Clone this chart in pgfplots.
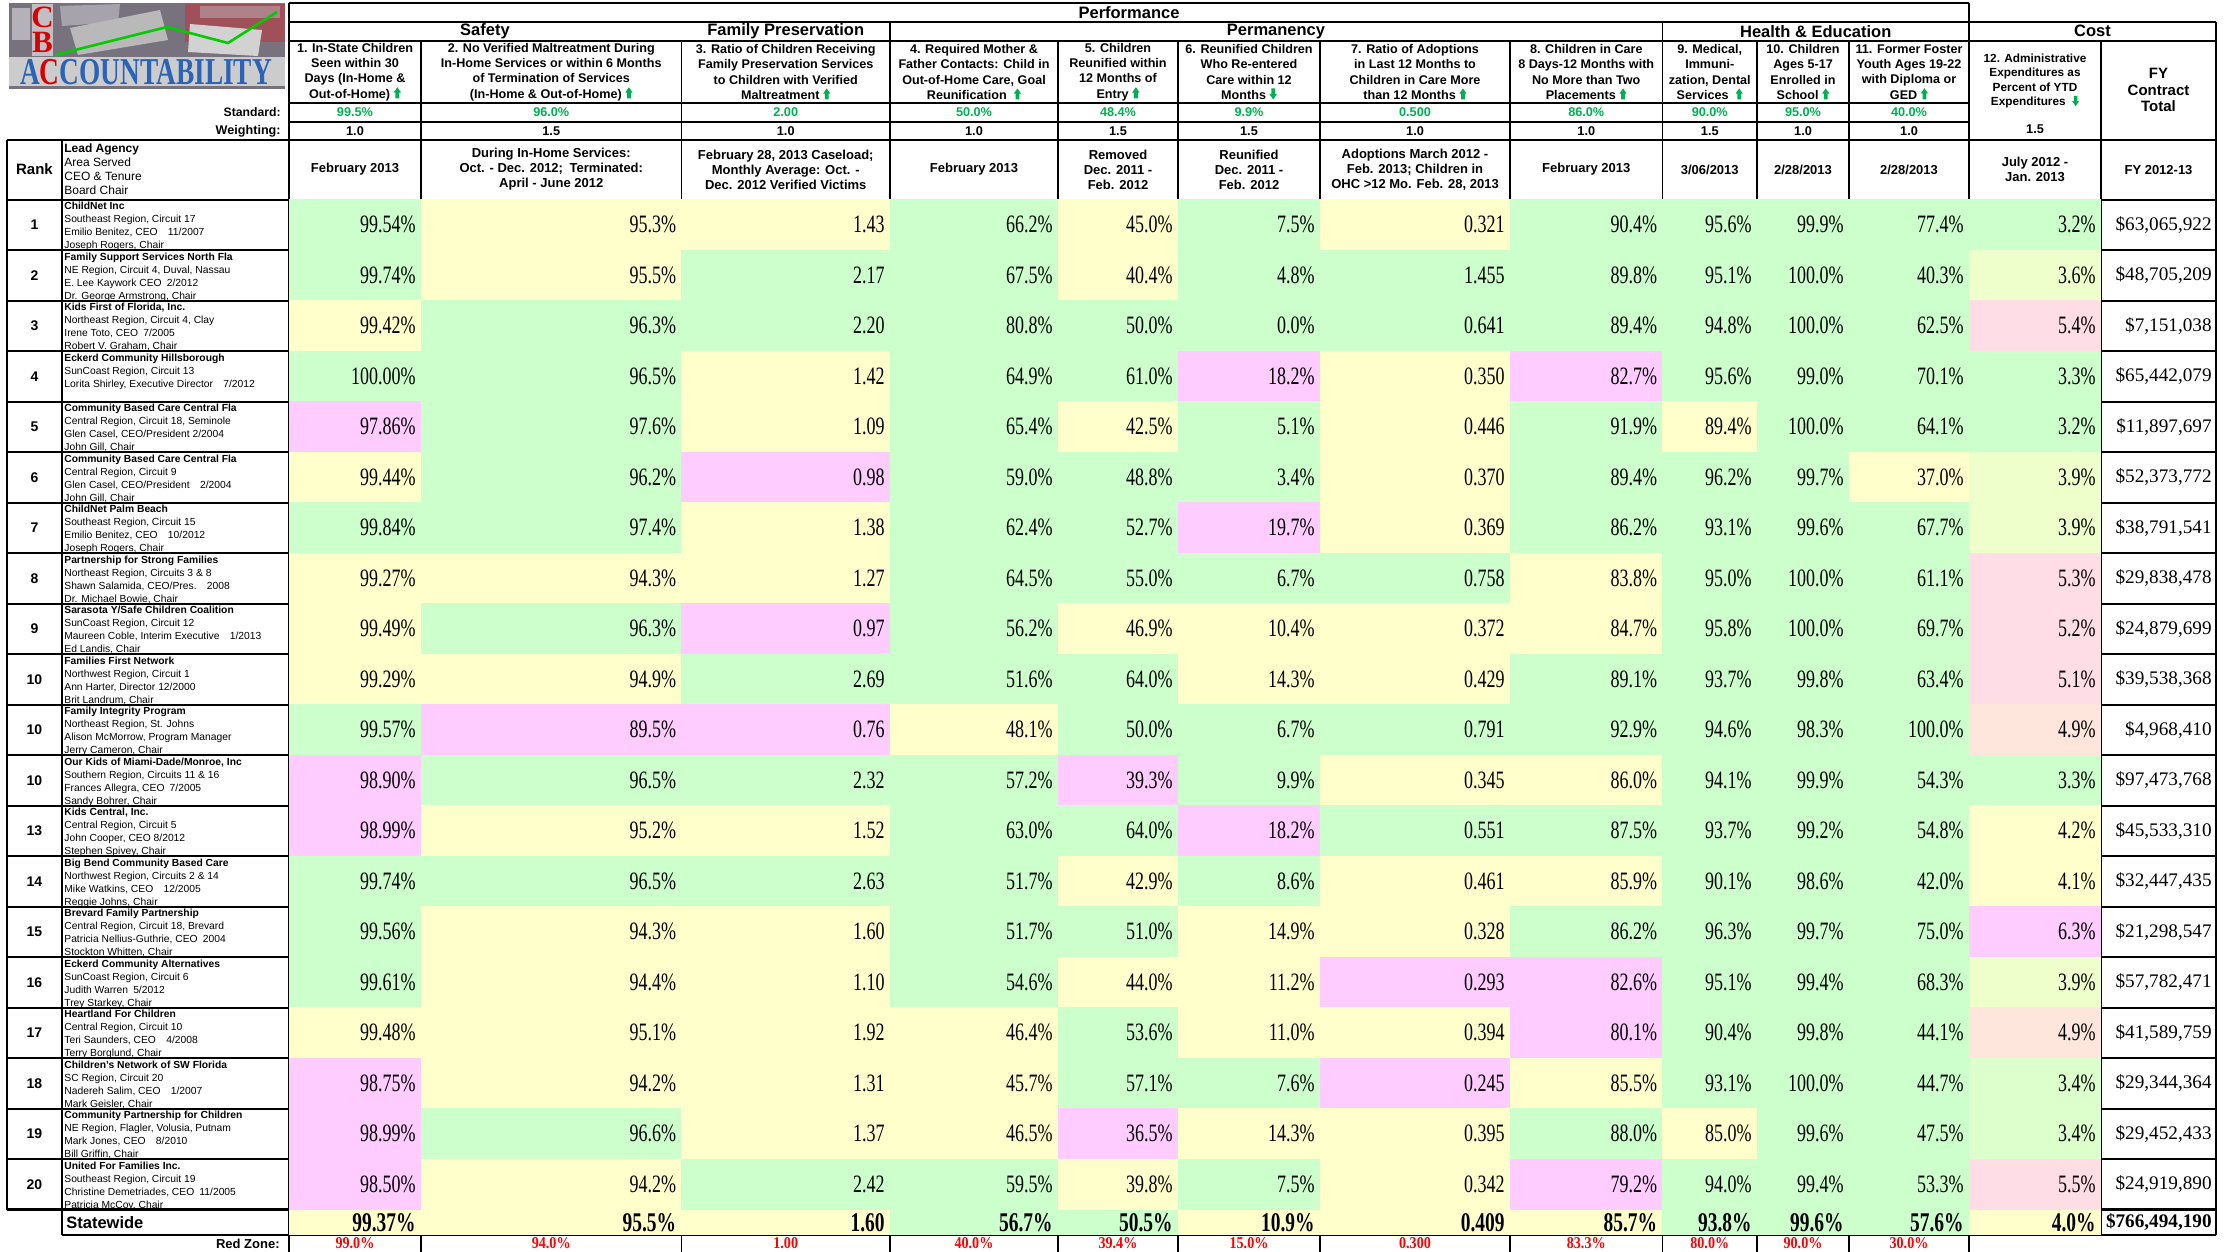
\documentclass[border=0pt]{standalone}
\usepackage{fontspec}
\setmainfont{Liberation Sans}
\newfontfamily\valfont[FakeStretch=0.72]{Liberation Serif}
\newfontfamily\fyfont{Liberation Serif}
\newfontfamily\redfont[FakeStretch=0.85]{Liberation Serif}
\usepackage{pgfplots}
\usepackage{pgfplotstable}
\pgfplotsset{compat=1.18}

\definecolor{cG}{HTML}{CCFFCC}
\definecolor{cY}{HTML}{FFFFCC}
\definecolor{cP}{HTML}{FFCCFF}
\definecolor{cL}{HTML}{FFDDE6}
\definecolor{cE}{HTML}{EEFFCC}
\definecolor{cK}{HTML}{FFE6DC}
\definecolor{cD}{HTML}{DDFFCC}
\definecolor{cW}{HTML}{FFFFFF}
\definecolor{agreen}{HTML}{00B050}
\definecolor{zred}{HTML}{FF0000}
\definecolor{logobg}{HTML}{77727E}
\definecolor{logoblue}{HTML}{2A63B8}

\newcommand\up{\tikz[baseline=0pt]\fill[agreen] (0.14em,-0.02em) -- (0.14em,0.44em) -- (0em,0.44em) -- (0.29em,0.86em) -- (0.58em,0.44em) -- (0.44em,0.44em) -- (0.44em,-0.02em) -- cycle;}
\newcommand\dn{\tikz[baseline=0pt]\fill[agreen] (0.14em,0.86em) -- (0.14em,0.4em) -- (0em,0.4em) -- (0.29em,-0.02em) -- (0.58em,0.4em) -- (0.44em,0.4em) -- (0.44em,0.86em) -- cycle;}

\pgfdeclareplotmark{cell}{%
  \pgfsetfillcolor{c\pgfplotspointmeta}%
  \pgfpathrectangle{\pgfpoint{-\pgfplotmarksize}{-12.7pt}}{\pgfpoint{2\pgfplotmarksize}{25.4pt}}%
  \pgfusepathqfill}
\pgfdeclareplotmark{cellS}{%
  \pgfsetfillcolor{c\pgfplotspointmeta}%
  \pgfpathrectangle{\pgfpoint{-\pgfplotmarksize}{-6.4pt}}{\pgfpoint{2\pgfplotmarksize}{12.8pt}}%
  \pgfusepathqfill}

\pgfplotsset{
  cellbase/.style={only marks, scatter, point meta=explicit symbolic,
    scatter/@pre marker code/.code={}, scatter/@post marker code/.code={}},
  cellsR/.style={cellbase, mark=cell, mark size=#1, skip coords between index={20}{21}},
  cellsS/.style={cellbase, mark=cellS, mark size=#1, skip coords between index={0}{20}},
  txt/.style 2 args={draw=none, mark=none, point meta=explicit symbolic,
    nodes near coords={#1},
    every node near coord/.append style={inner sep=0pt, #2}},
  valR/.style={txt={#1}{anchor=east, text=black, font=\valfont\fontsize{12.5}{12.5}\selectfont}, skip coords between index={20}{21}},
  valS/.style={txt={#1}{anchor=east, text=black, font=\valfont\bfseries\fontsize{13.5}{13.5}\selectfont}, skip coords between index={0}{20}},
}

\tikzset{
  hl/.style={line width=0.9pt},
  vl/.style={line width=0.6pt},
  hdr/.style={align=center, inner sep=0pt, font=\bfseries\fontsize{6.3}{7.6}\selectfont},
  ag/.style={anchor=north west, align=left, inner sep=0pt, font=\fontsize{5.15}{6.5}\selectfont},
  logoword/.style={font=\valfont\bfseries\fontsize{19}{19}\selectfont, inner sep=0pt},
}

\begin{document}
\pgfplotstableread{
y r v1 k1 v2 k2 v3 k3 v4 k4 v5 k5 v6 k6 v7 k7 v8 k8 v9 k9 v10 k10 v11 k11 v12 k12 v13
224.85 1 99.54 G 95.3 Y 1.43 Y 66.2 G 45.0 Y 7.5 G 0.321 Y 90.4 G 95.6 G 99.9 G 77.4 G 3.2 G 63,065,922
275.35 2 99.74 G 95.5 Y 2.17 G 67.5 G 40.4 Y 4.8 G 1.455 G 89.8 G 95.1 G 100.0 G 40.3 G 3.6 E 48,705,209
325.85 3 99.42 Y 96.3 G 2.20 G 80.8 G 50.0 G 0.0 G 0.641 G 89.4 G 94.8 G 100.0 G 62.5 G 5.4 L 7,151,038
376.35 4 100.00 G 96.5 G 1.42 Y 64.9 G 61.0 G 18.2 P 0.350 Y 82.7 P 95.6 G 99.0 G 70.1 G 3.3 G 65,442,079
426.85 5 97.86 P 97.6 G 1.09 Y 65.4 G 42.5 Y 5.1 G 0.446 Y 91.9 G 89.4 Y 100.0 G 64.1 G 3.2 G 11,897,697
477.35 6 99.44 Y 96.2 G 0.98 P 59.0 G 48.8 G 3.4 G 0.370 Y 89.4 G 96.2 G 99.7 G 37.0 Y 3.9 E 52,373,772
527.85 7 99.84 G 97.4 G 1.38 Y 62.4 G 52.7 G 19.7 P 0.369 Y 86.2 G 93.1 G 99.6 G 67.7 G 3.9 E 38,791,541
578.35 8 99.27 Y 94.3 Y 1.27 Y 64.5 G 55.0 G 6.7 G 0.758 G 83.8 Y 95.0 G 100.0 G 61.1 G 5.3 L 29,838,478
628.85 9 99.49 Y 96.3 G 0.97 P 56.2 G 46.9 Y 10.4 Y 0.372 Y 84.7 Y 95.8 G 100.0 G 69.7 G 5.2 L 24,879,699
679.35 10 99.29 Y 94.9 Y 2.69 G 51.6 G 64.0 G 14.3 Y 0.429 Y 89.1 G 93.7 G 99.8 G 63.4 G 5.1 L 39,538,368
729.85 10 99.57 G 89.5 P 0.76 P 48.1 Y 50.0 G 6.7 G 0.791 G 92.9 G 94.6 G 98.3 G 100.0 G 4.9 K 4,968,410
780.35 10 98.90 P 96.5 G 2.32 G 57.2 G 39.3 P 9.9 G 0.345 Y 86.0 Y 94.1 G 99.9 G 54.3 G 3.3 G 97,473,768
830.85 13 98.99 P 95.2 Y 1.52 Y 63.0 G 64.0 G 18.2 P 0.551 G 87.5 G 93.7 G 99.2 G 54.8 G 4.2 Y 45,533,310
881.35 14 99.74 G 96.5 G 2.63 G 51.7 G 42.9 Y 8.6 G 0.461 Y 85.9 Y 90.1 G 98.6 G 42.0 G 4.1 Y 32,447,435
931.85 15 99.56 G 94.3 Y 1.60 Y 51.7 G 51.0 G 14.9 Y 0.328 Y 86.2 G 96.3 G 99.7 G 75.0 G 6.3 P 21,298,547
982.35 16 99.61 G 94.4 Y 1.10 Y 54.6 G 44.0 Y 11.2 Y 0.293 P 82.6 P 95.1 G 99.4 G 68.3 G 3.9 E 57,782,471
1032.85 17 99.48 Y 95.1 Y 1.92 Y 46.4 Y 53.6 G 11.0 Y 0.394 Y 80.1 P 90.4 G 99.8 G 44.1 G 4.9 K 41,589,759
1083.35 18 98.75 P 94.2 Y 1.31 Y 45.7 Y 57.1 G 7.6 G 0.245 P 85.5 Y 93.1 G 100.0 G 44.7 G 3.4 D 29,344,364
1133.85 19 98.99 P 96.6 G 1.37 Y 46.5 Y 36.5 P 14.3 Y 0.395 Y 88.0 G 85.0 Y 99.6 G 47.5 G 3.4 D 29,452,433
1184.35 20 98.50 P 94.2 Y 2.42 G 59.5 G 39.8 Y 7.5 G 0.342 Y 79.2 P 94.0 G 99.4 G 53.3 G 5.5 L 24,919,890
1222.3 0 99.37 Y 95.5 Y 1.60 Y 56.7 G 50.5 G 10.9 Y 0.409 Y 85.7 Y 93.8 G 99.6 G 57.6 G 4.0 Y 766,494,190
}\data

% standard / weighting / red zone: percent columns
\pgfplotstableread{
x s w r
355 99.5 1.0 99.0
551.25 96.0 1.5 94.0
974 50.0 1.0 40.0
1118 48.4 1.5 39.4
1249 9.9 1.5 15.0
1586.25 86.0 1.0 83.3
1709.75 90.0 1.5 80.0
1803 95.0 1.0 90.0
1909 40.0 1.0 30.0
}\hdrP
% ratio columns
\pgfplotstableread{
x s w r
785.75 2.00 1.0 1.00
1415 0.500 1.0 0.300
}\hdrN
\pgfplotstableread{
x w
2035 1.5
}\hdrC

\begin{tikzpicture}
\begin{axis}[
  x=0.5pt, y=0.5pt, y dir=reverse,
  xmin=0, xmax=2233, ymin=0, ymax=1252,
  hide axis, clip=false,
]
\coordinate (TL) at (0,0);
\coordinate (BR) at (2233,1252);

% ---------- cell fills ----------
\addplot[cellsR=33.2pt]  table[x expr=355,     y=y, meta=k1]  {\data};
\addplot[cellsS=33.2pt]  table[x expr=355,     y=y, meta=k1]  {\data};
\addplot[cellsR=65.35pt] table[x expr=551.25,  y=y, meta=k2]  {\data};
\addplot[cellsS=65.35pt] table[x expr=551.25,  y=y, meta=k2]  {\data};
\addplot[cellsR=52.35pt] table[x expr=785.75,  y=y, meta=k3]  {\data};
\addplot[cellsS=52.35pt] table[x expr=785.75,  y=y, meta=k3]  {\data};
\addplot[cellsR=42.2pt]  table[x expr=974,     y=y, meta=k4]  {\data};
\addplot[cellsS=42.2pt]  table[x expr=974,     y=y, meta=k4]  {\data};
\addplot[cellsR=30.2pt]  table[x expr=1118,    y=y, meta=k5]  {\data};
\addplot[cellsS=30.2pt]  table[x expr=1118,    y=y, meta=k5]  {\data};
\addplot[cellsR=35.7pt]  table[x expr=1249,    y=y, meta=k6]  {\data};
\addplot[cellsS=35.7pt]  table[x expr=1249,    y=y, meta=k6]  {\data};
\addplot[cellsR=47.7pt]  table[x expr=1415,    y=y, meta=k7]  {\data};
\addplot[cellsS=47.7pt]  table[x expr=1415,    y=y, meta=k7]  {\data};
\addplot[cellsR=38.35pt] table[x expr=1586.25, y=y, meta=k8]  {\data};
\addplot[cellsS=38.35pt] table[x expr=1586.25, y=y, meta=k8]  {\data};
\addplot[cellsR=23.85pt] table[x expr=1709.75, y=y, meta=k9]  {\data};
\addplot[cellsS=23.85pt] table[x expr=1709.75, y=y, meta=k9]  {\data};
\addplot[cellsR=23.2pt]  table[x expr=1803,    y=y, meta=k10] {\data};
\addplot[cellsS=23.2pt]  table[x expr=1803,    y=y, meta=k10] {\data};
\addplot[cellsR=30.2pt]  table[x expr=1909,    y=y, meta=k11] {\data};
\addplot[cellsS=30.2pt]  table[x expr=1909,    y=y, meta=k11] {\data};
\addplot[cellsR=33.2pt]  table[x expr=2035,    y=y, meta=k12] {\data};
\addplot[cellsS=33.2pt]  table[x expr=2035,    y=y, meta=k12] {\data};

% ---------- logo (collage background drawn as shapes) ----------
\fill[logobg] (9,3) rectangle (285,89);
\fill[red!30!logobg] (185,4) rectangle (285,42);
\fill[white!45!logobg] (12,8) rectangle (30,40);
\fill[white!35!logobg] (60,6) -- (120,4) -- (118,22) -- (62,26) -- cycle;
\fill[gray!55] (70,28) -- (160,10) -- (168,40) -- (78,55) -- cycle;
\fill[gray!35] (190,24) -- (262,30) -- (258,56) -- (188,52) -- cycle;
\fill[white!60!red!40!logobg] (200,6) rectangle (280,18);
\fill[white, opacity=0.55] (32,4) rectangle (53,56);
\fill[gray!40] (9,57) rectangle (285,86);
\node[text=red!85!black, align=center, inner sep=0pt, font=\fyfont\bfseries\fontsize{15.5}{12.25}\selectfont] at (42.5,29.75) {C\\B};
\draw[green!80!black, line width=1.3pt] (55,55) -- (167,27) -- (228,43) -- (277,12);
\node[logoword, text=logoblue] at (146,72.5) {A\textcolor{red!85!black}{C}COUNTABILITY};

% ---------- grid ----------
\draw[hl] (289,2.7) -- (1969,2.7);
\draw[hl] (289,21.7) -- (2216,21.7);
\draw[hl] (289,40.7) -- (2216,40.7);
\draw[hl] (289,103.3) -- (1969,103.3);
\draw[hl] (289,121.7) -- (1969,121.7);
\draw[hl] (7,140) -- (2216,140);
\draw[hl] (7,199.6) -- (2216,199.6);
\draw[hl] (7,250.1) -- (2216,250.1);
\draw[hl] (7,300.6) -- (2216,300.6);
\draw[hl] (7,351.1) -- (2216,351.1);
\draw[hl] (7,401.6) -- (2216,401.6);
\draw[hl] (7,452.1) -- (2216,452.1);
\draw[hl] (7,502.6) -- (2216,502.6);
\draw[hl] (7,553.1) -- (2216,553.1);
\draw[hl] (7,603.6) -- (2216,603.6);
\draw[hl] (7,654.1) -- (2216,654.1);
\draw[hl] (7,704.6) -- (2216,704.6);
\draw[hl] (7,755.1) -- (2216,755.1);
\draw[hl] (7,805.6) -- (2216,805.6);
\draw[hl] (7,856.1) -- (2216,856.1);
\draw[hl] (7,906.6) -- (2216,906.6);
\draw[hl] (7,957.1) -- (2216,957.1);
\draw[hl] (7,1007.6) -- (2216,1007.6);
\draw[hl] (7,1058.1) -- (2216,1058.1);
\draw[hl] (7,1108.6) -- (2216,1108.6);
\draw[hl] (7,1159.1) -- (2216,1159.1);
\draw[line width=1.4pt] (7,1209.6) -- (2216,1209.6);
\draw[hl] (62,1235) -- (2216,1235);
\draw[vl] (289,2.7) -- (289,1252);
\draw[vl] (421,40.7) -- (421,1252);
\draw[vl] (681.5,40.7) -- (681.5,1252);
\draw[vl] (890,21.7) -- (890,1252);
\draw[vl] (1058,40.7) -- (1058,1252);
\draw[vl] (1178,40.7) -- (1178,1252);
\draw[vl] (1320,40.7) -- (1320,1252);
\draw[vl] (1510,40.7) -- (1510,1252);
\draw[vl] (1662.5,21.7) -- (1662.5,1252);
\draw[vl] (1757,40.7) -- (1757,1252);
\draw[vl] (1849,40.7) -- (1849,1252);
\draw[vl] (1969,2.7) -- (1969,1252);
\draw[vl] (2101,40.7) -- (2101,1235);
\draw[vl] (2216,21.7) -- (2216,1235);
\draw[vl] (7,140) -- (7,1209.6);
\draw[vl] (62,140) -- (62,1235);

% ---------- values ----------
\addplot[valR={\pgfplotspointmeta\%}] table[x expr=416,    y=y, meta=v1]  {\data};
\addplot[valS={\pgfplotspointmeta\%}] table[x expr=416,    y=y, meta=v1]  {\data};
\addplot[valR={\pgfplotspointmeta\%}] table[x expr=676.5,  y=y, meta=v2]  {\data};
\addplot[valS={\pgfplotspointmeta\%}] table[x expr=676.5,  y=y, meta=v2]  {\data};
\addplot[valR={\pgfplotspointmeta}]   table[x expr=885,    y=y, meta=v3]  {\data};
\addplot[valS={\pgfplotspointmeta}]   table[x expr=885,    y=y, meta=v3]  {\data};
\addplot[valR={\pgfplotspointmeta\%}] table[x expr=1053,   y=y, meta=v4]  {\data};
\addplot[valS={\pgfplotspointmeta\%}] table[x expr=1053,   y=y, meta=v4]  {\data};
\addplot[valR={\pgfplotspointmeta\%}] table[x expr=1173,   y=y, meta=v5]  {\data};
\addplot[valS={\pgfplotspointmeta\%}] table[x expr=1173,   y=y, meta=v5]  {\data};
\addplot[valR={\pgfplotspointmeta\%}] table[x expr=1315,   y=y, meta=v6]  {\data};
\addplot[valS={\pgfplotspointmeta\%}] table[x expr=1315,   y=y, meta=v6]  {\data};
\addplot[valR={\pgfplotspointmeta}]   table[x expr=1505,   y=y, meta=v7]  {\data};
\addplot[valS={\pgfplotspointmeta}]   table[x expr=1505,   y=y, meta=v7]  {\data};
\addplot[valR={\pgfplotspointmeta\%}] table[x expr=1657.5, y=y, meta=v8]  {\data};
\addplot[valS={\pgfplotspointmeta\%}] table[x expr=1657.5, y=y, meta=v8]  {\data};
\addplot[valR={\pgfplotspointmeta\%}] table[x expr=1752,   y=y, meta=v9]  {\data};
\addplot[valS={\pgfplotspointmeta\%}] table[x expr=1752,   y=y, meta=v9]  {\data};
\addplot[valR={\pgfplotspointmeta\%}] table[x expr=1844,   y=y, meta=v10] {\data};
\addplot[valS={\pgfplotspointmeta\%}] table[x expr=1844,   y=y, meta=v10] {\data};
\addplot[valR={\pgfplotspointmeta\%}] table[x expr=1964,   y=y, meta=v11] {\data};
\addplot[valS={\pgfplotspointmeta\%}] table[x expr=1964,   y=y, meta=v11] {\data};
\addplot[valR={\pgfplotspointmeta\%}] table[x expr=2096,   y=y, meta=v12] {\data};
\addplot[valS={\pgfplotspointmeta\%}] table[x expr=2096,   y=y, meta=v12] {\data};
\addplot[txt={\$\pgfplotspointmeta}{anchor=east, text=black, font=\fyfont\fontsize{9.6}{9.6}\selectfont}, skip coords between index={20}{21}] table[x expr=2212, y=y, meta=v13] {\data};
\addplot[txt={\$\pgfplotspointmeta}{anchor=east, text=black, font=\fyfont\bfseries\fontsize{9.6}{9.6}\selectfont}, skip coords between index={0}{20}] table[x expr=2212, y=y, meta=v13] {\data};
% rank
\addplot[txt={\pgfplotspointmeta}{anchor=center, text=black, font=\bfseries\fontsize{7}{7}\selectfont}, skip coords between index={20}{21}] table[x expr=34.5, y=y, meta=r] {\data};
% standard, weighting, red zone
\addplot[txt={\pgfplotspointmeta\%}{anchor=center, text=agreen, font=\bfseries\fontsize{6.35}{6.35}\selectfont}] table[x=x, y expr=112.5, meta=s] {\hdrP};
\addplot[txt={\pgfplotspointmeta}{anchor=center, text=agreen, font=\bfseries\fontsize{6.35}{6.35}\selectfont}] table[x=x, y expr=112.5, meta=s] {\hdrN};
\addplot[txt={\pgfplotspointmeta}{anchor=center, text=black, font=\bfseries\fontsize{6.35}{6.35}\selectfont}] table[x=x, y expr=130.8, meta=w] {\hdrP};
\addplot[txt={\pgfplotspointmeta}{anchor=center, text=black, font=\bfseries\fontsize{6.35}{6.35}\selectfont}] table[x=x, y expr=130.8, meta=w] {\hdrN};
\addplot[txt={\pgfplotspointmeta}{anchor=center, text=black, font=\bfseries\fontsize{6.35}{6.35}\selectfont}] table[x=x, y expr=129.5, meta=w] {\hdrC};
\addplot[txt={\pgfplotspointmeta\%}{anchor=center, text=zred, font=\redfont\bfseries\fontsize{8.3}{8.3}\selectfont}] table[x=x, y expr=1243.5, meta=r] {\hdrP};
\addplot[txt={\pgfplotspointmeta}{anchor=center, text=zred, font=\redfont\bfseries\fontsize{8.3}{8.3}\selectfont}] table[x=x, y expr=1243.5, meta=r] {\hdrN};

% ---------- header texts ----------
\node[font=\bfseries\fontsize{8.25}{9}\selectfont] at (1129,12.2) {Performance};
\node[font=\bfseries\fontsize{8.25}{9}\selectfont] at (485,31.2) {Safety};
\node[font=\bfseries\fontsize{8.25}{9}\selectfont] at (785.75,31.2) {Family Preservation};
\node[font=\bfseries\fontsize{8.25}{9}\selectfont] at (1276,31.2) {Permanency};
\node[font=\bfseries\fontsize{8.25}{9}\selectfont] at (1815.75,31.2) {Health \& Education};
\node[font=\bfseries\fontsize{8.25}{9}\selectfont] at (2092.5,31.2) {Cost};

\node[hdr] at (355,72) {1. In-State Children\\Seen within 30\\Days (In-Home \&\\Out-of-Home) \up};
\node[hdr] at (551.25,72) {2. No Verified Maltreatment During\\In-Home Services or within 6 Months\\of Termination of Services\\(In-Home \& Out-of-Home) \up};
\node[hdr] at (785.75,72) {3. Ratio of Children Receiving\\Family Preservation Services\\to Children with Verified\\Maltreatment \up};
\node[hdr] at (974,72) {4. Required Mother \&\\Father Contacts: Child in\\Out-of-Home Care, Goal\\Reunification \ \up};
\node[hdr] at (1118,72) {5. Children\\Reunified within\\12 Months of\\Entry \up};
\node[hdr] at (1249,72) {6. Reunified Children\\Who Re-entered\\Care within 12\\Months \dn};
\node[hdr] at (1415,72) {7. Ratio of Adoptions\\in Last 12 Months to\\Children in Care More\\than 12 Months \up};
\node[hdr] at (1586.25,72) {8. Children in Care\\8 Days-12 Months with\\No More than Two\\Placements \up};
\node[hdr] at (1709.75,72) {9. Medical,\\Immuni-\\zation, Dental\\Services \ \up};
\node[hdr] at (1803,72) {10. Children\\Ages 5-17\\Enrolled in\\School \up};
\node[hdr] at (1909,72) {11. Former Foster\\Youth Ages 19-22\\with Diploma or\\GED \up};
\node[hdr, font=\bfseries\fontsize{5.9}{7.3}\selectfont] at (2035,81) {12. Administrative\\Expenditures as\\Percent of YTD\\Expenditures \ \dn};
\node[hdr, font=\bfseries\fontsize{7.5}{8.3}\selectfont] at (2158.5,90.3) {FY\\Contract\\Total};

\node[anchor=east, inner sep=0pt, font=\bfseries\fontsize{6.1}{7}\selectfont] at (281,112.5) {Standard:};
\node[anchor=east, inner sep=0pt, font=\bfseries\fontsize{6.3}{7}\selectfont] at (281,130.8) {Weighting:};

\node[hdr, font=\bfseries\fontsize{6.5}{7.5}\selectfont] at (355,169.6) {February 2013};
\node[hdr, font=\bfseries\fontsize{6.5}{7.5}\selectfont] at (551.25,169.6) {During In-Home Services:\\Oct. - Dec. 2012;\enspace Terminated:\\April - June 2012};
\node[hdr, font=\bfseries\fontsize{6.5}{7.5}\selectfont] at (785.75,169.6) {February 28, 2013 Caseload;\\Monthly Average: Oct. -\\Dec. 2012 Verified Victims};
\node[hdr, font=\bfseries\fontsize{6.5}{7.5}\selectfont] at (974,169.6) {February 2013};
\node[hdr, font=\bfseries\fontsize{6.5}{7.5}\selectfont] at (1118,169.6) {Removed\\Dec. 2011 -\\Feb. 2012};
\node[hdr, font=\bfseries\fontsize{6.5}{7.5}\selectfont] at (1249,169.6) {Reunified\\Dec. 2011 -\\Feb. 2012};
\node[hdr, font=\bfseries\fontsize{6.5}{7.5}\selectfont] at (1415,169.6) {Adoptions March 2012 -\\Feb. 2013; Children in\\OHC >12 Mo. Feb. 28, 2013};
\node[hdr, font=\bfseries\fontsize{6.5}{7.5}\selectfont] at (1586.25,169.6) {February 2013};
\node[hdr, font=\bfseries\fontsize{6.5}{7.5}\selectfont] at (1709.75,169.6) {3/06/2013};
\node[hdr, font=\bfseries\fontsize{6.5}{7.5}\selectfont] at (1803,169.6) {2/28/2013};
\node[hdr, font=\bfseries\fontsize{6.5}{7.5}\selectfont] at (1909,169.6) {2/28/2013};
\node[hdr, font=\bfseries\fontsize{6.5}{7.5}\selectfont] at (2035,169.6) {July 2012 -\\Jan. 2013};
\node[hdr, font=\bfseries\fontsize{6.5}{7.5}\selectfont] at (2158.5,169.6) {FY 2012-13};

\node[font=\bfseries\fontsize{7.5}{8}\selectfont, inner sep=0pt] at (34.5,169.6) {Rank};
\node[ag, font=\fontsize{6}{7}\selectfont] at (64,143.5) {\textbf{Lead Agency}\\Area Served\\CEO \& Tenure\\Board Chair};

% ---------- agencies ----------
\node[ag] at (64,202.1) {\textbf{ChildNet Inc}\\Southeast Region, Circuit 17\\Emilio Benitez, CEO\quad 11/2007\\Joseph Rogers, Chair};
\node[ag] at (64,252.6) {\textbf{Family Support Services North Fla}\\NE Region, Circuit 4, Duval, Nassau\\E. Lee Kaywork CEO\enspace 2/2012\\Dr. George Armstrong, Chair};
\node[ag] at (64,303.1) {\textbf{Kids First of Florida, Inc.}\\Northeast Region, Circuit 4, Clay\\Irene Toto, CEO\enspace 7/2005\\Robert V. Graham, Chair};
\node[ag] at (64,353.6) {\textbf{Eckerd Community Hillsborough}\\SunCoast Region, Circuit 13\\Lorita Shirley, Executive Director\quad 7/2012};
\node[ag] at (64,404.1) {\textbf{Community Based Care Central Fla}\\Central Region, Circuit 18, Seminole\\Glen Casel, CEO/President\ 2/2004\\John Gill, Chair};
\node[ag] at (64,454.6) {\textbf{Community Based Care Central Fla}\\Central Region, Circuit 9\\Glen Casel, CEO/President\quad 2/2004\\John Gill, Chair};
\node[ag] at (64,505.1) {\textbf{ChildNet Palm Beach}\\Southeast Region, Circuit 15\\Emilio Benitez, CEO\quad 10/2012\\Joseph Rogers, Chair};
\node[ag] at (64,555.6) {\textbf{Partnership for Strong Families}\\Northeast Region, Circuits 3 \& 8\\Shawn Salamida, CEO/Pres.\quad 2008\\Dr. Michael Bowie, Chair};
\node[ag] at (64,606.1) {\textbf{Sarasota Y/Safe Children Coalition}\\SunCoast Region, Circuit 12\\Maureen Coble, Interim Executive\quad 1/2013\\Ed Landis, Chair};
\node[ag] at (64,656.6) {\textbf{Families First Network}\\Northwest Region, Circuit 1\\Ann Harter, Director 12/2000\\Brit Landrum, Chair};
\node[ag] at (64,707.1) {\textbf{Family Integrity Program}\\Northeast Region, St. Johns\\Alison McMorrow, Program Manager\\Jerry Cameron, Chair};
\node[ag] at (64,757.6) {\textbf{Our Kids of Miami-Dade/Monroe, Inc}\\Southern Region, Circuits 11 \& 16\\Frances Allegra, CEO\enspace 7/2005\\Sandy Bohrer, Chair};
\node[ag] at (64,808.1) {\textbf{Kids Central, Inc.}\\Central Region, Circuit 5\\John Cooper, CEO 8/2012\\Stephen Spivey, Chair};
\node[ag] at (64,858.6) {\textbf{Big Bend Community Based Care}\\Northwest Region, Circuits 2 \& 14\\Mike Watkins, CEO\quad 12/2005\\Reggie Johns, Chair};
\node[ag] at (64,909.1) {\textbf{Brevard Family Partnership}\\Central Region, Circuit 18, Brevard\\Patricia Nellius-Guthrie, CEO\enspace 2004\\Stockton Whitten, Chair};
\node[ag] at (64,959.6) {\textbf{Eckerd Community Alternatives}\\SunCoast Region, Circuit 6\\Judith Warren\enspace 5/2012\\Trey Starkey, Chair};
\node[ag] at (64,1010.1) {\textbf{Heartland For Children}\\Central Region, Circuit 10\\Teri Saunders, CEO\quad 4/2008\\Terry Borglund, Chair};
\node[ag] at (64,1060.6) {\textbf{Children's Network of SW Florida}\\SC Region, Circuit 20\\Nadereh Salim, CEO\quad 1/2007\\Mark Geisler, Chair};
\node[ag] at (64,1111.1) {\textbf{Community Partnership for Children}\\NE Region, Flagler, Volusia, Putnam\\Mark Jones, CEO\quad 8/2010\\Bill Griffin, Chair};
\node[ag] at (64,1161.6) {\textbf{United For Families Inc.}\\Southeast Region, Circuit 19\\Christine Demetriades, CEO\enspace 11/2005\\Patricia McCoy, Chair};

\node[anchor=west, inner sep=0pt, font=\bfseries\fontsize{8.25}{9}\selectfont] at (66,1222.3) {Statewide};
\node[anchor=east, inner sep=0pt, font=\bfseries\fontsize{6.5}{7}\selectfont] at (280,1243.5) {Red Zone:};
\end{axis}
\pgfresetboundingbox
\useasboundingbox (TL) rectangle (BR);
\end{tikzpicture}
\end{document}
